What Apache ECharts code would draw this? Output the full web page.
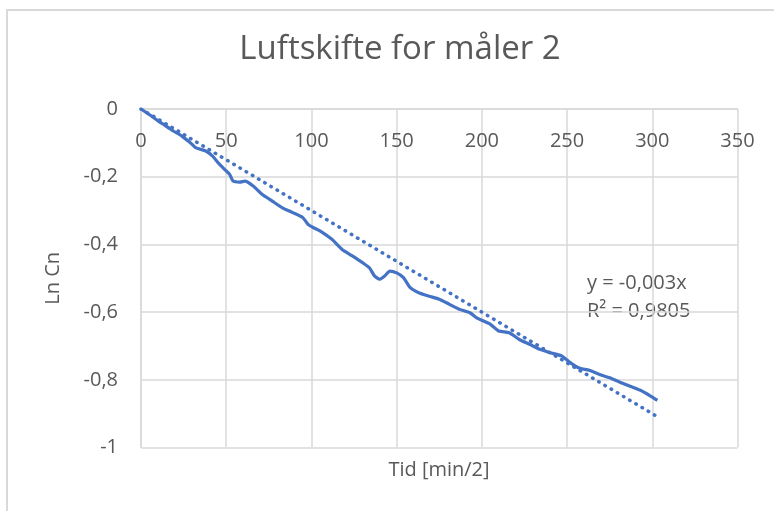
<!DOCTYPE html>
<html>
<head>
<meta charset="utf-8">
<script src="https://cdn.jsdelivr.net/npm/echarts@6/dist/echarts.min.js"></script>
<style>
  html, body { margin: 0; padding: 0; background: #fff; }
  #chart { width: 774px; height: 511px; }
</style>
</head>
<body>
<div id="chart"></div>
<script>
// Measured time (half-minutes) and ln of normalised concentration
const times = [0, 5, 10, 13, 19, 24, 29, 32, 38, 42, 46, 50, 52, 54, 58, 61, 66, 71, 77, 83,
  89, 95, 98, 101, 105, 112, 118, 124, 130, 134, 137, 140, 143, 146, 150, 154, 158, 163, 169,
  175, 181, 187, 193, 197, 199, 205, 210, 216, 222, 228, 234, 240, 247, 252, 257, 263, 269,
  275, 281, 287, 293, 299, 303];
const lnCn = [0, -0.017, -0.035, -0.045, -0.065, -0.080, -0.100, -0.114, -0.124, -0.139, -0.163,
  -0.183, -0.193, -0.213, -0.216, -0.213, -0.228, -0.252, -0.272, -0.292, -0.306, -0.321,
  -0.341, -0.350, -0.360, -0.385, -0.415, -0.434, -0.454, -0.469, -0.493, -0.503, -0.493,
  -0.479, -0.484, -0.498, -0.528, -0.543, -0.553, -0.562, -0.577, -0.592, -0.602, -0.617,
  -0.622, -0.636, -0.656, -0.661, -0.681, -0.695, -0.710, -0.720, -0.730, -0.750, -0.765,
  -0.772, -0.784, -0.794, -0.807, -0.819, -0.831, -0.848, -0.861];

// Linear trendline through the origin
const trendSlope = -0.003;
const trendR2 = 0.9805;
const trendEndX = 302;

const xTicks = { min: 0, max: 350, interval: 50 };
const yTicks = { min: -1, max: 0, interval: 0.2 };

const FONT = '"Open Sans", sans-serif';
const TEXT = '#595959';
const GRID = '#d9d9d9';
const BLUE = '#4472C4';

const fmtComma = v => String(Math.round(v * 10) / 10).replace('.', ',');

const lineData = times.map((t, i) => [t, lnCn[i]]);
const trendData = [[0, 0], [trendEndX, trendSlope * trendEndX]];

const chart = echarts.init(document.getElementById('chart'), null, { renderer: 'canvas' });
chart.setOption({
  animation: false,
  backgroundColor: '#fff',
  title: {
    text: 'Luftskifte for måler 2',
    left: 395,
    textAlign: 'center',
    top: 28,
    textStyle: { fontFamily: FONT, fontSize: 33, fontWeight: 'normal', color: TEXT }
  },
  grid: { left: 141, top: 109, right: 36.5, bottom: 63.5, containLabel: false, outerBoundsMode: 'none' },
  xAxis: {
    type: 'value',
    min: xTicks.min, max: xTicks.max, interval: xTicks.interval,
    // the time axis crosses the value axis at 0, which is the top edge
    position: 'top',
    axisLine: { onZero: false, lineStyle: { color: GRID, width: 1.5 } },
    axisTick: { show: false },
    axisLabel: { inside: true, margin: 22, color: TEXT, fontFamily: FONT, fontSize: 20, showMinLabel: true, showMaxLabel: true, hideOverlap: false },
    splitLine: { show: true, lineStyle: { color: GRID, width: 1.5 } }
  },
  yAxis: {
    type: 'value',
    min: yTicks.min, max: yTicks.max, interval: yTicks.interval,
    axisLine: { show: true, onZero: false, lineStyle: { color: GRID, width: 1.5 } },
    axisTick: { show: false },
    axisLabel: { margin: 23, color: TEXT, fontFamily: FONT, fontSize: 20, formatter: fmtComma, showMinLabel: true, showMaxLabel: true, hideOverlap: false },
    splitLine: { show: true, lineStyle: { color: GRID, width: 1.5 } },
    name: 'Ln Cn',
    nameLocation: 'middle',
    nameRotate: 90,
    nameGap: 78,
    nameTextStyle: { color: TEXT, fontFamily: FONT, fontSize: 20 }
  },
  series: [
    {
      type: 'line',
      data: lineData,
      showSymbol: false,
      smooth: 0.2,
      lineStyle: { color: BLUE, width: 3.2 },
      z: 3
    },
    {
      type: 'line',
      data: trendData,
      showSymbol: false,
      lineStyle: { color: BLUE, width: 3.5, type: [0.5, 6.7], cap: 'round' },
      z: 2
    }
  ],
  graphic: [
    {
      type: 'rect',
      shape: { x: 7, y: 10, width: 800, height: 600 },
      style: { fill: 'none', stroke: GRID, lineWidth: 2 },
      silent: true
    },
    {
      type: 'text',
      x: 439, y: 470,
      style: {
        text: 'Tid [min/2]', fill: TEXT, font: '20px ' + FONT,
        align: 'center', verticalAlign: 'middle'
      }
    },
    {
      type: 'text',
      left: 587, top: 269,
      style: {
        text: 'y = ' + String(trendSlope).replace('.', ',') + 'x\nR² = ' + String(trendR2).replace('.', ','),
        fill: TEXT, font: '20px ' + FONT, lineHeight: 28
      }
    }
  ]
});
</script>
</body>
</html>
